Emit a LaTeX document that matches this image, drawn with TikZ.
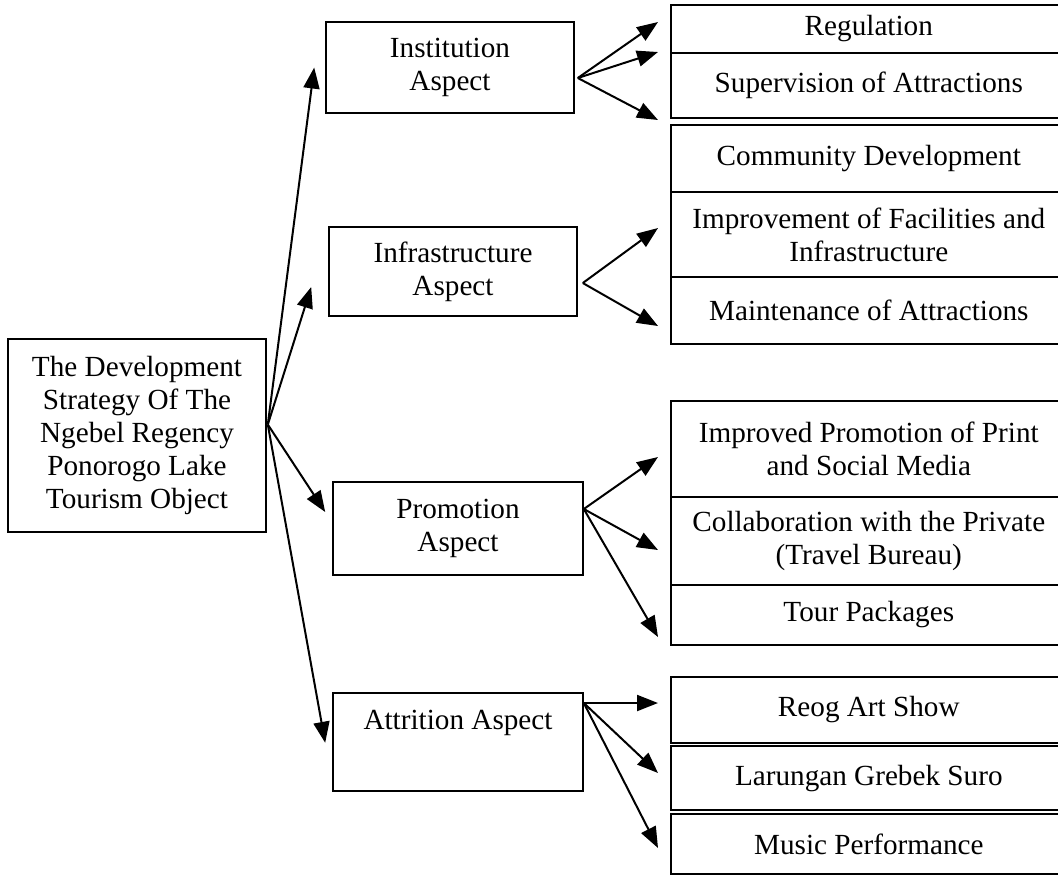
\documentclass[tikz,border=0pt]{standalone}
\usepackage{fontspec}
\setmainfont{Liberation Serif}
\usetikzlibrary{arrows.meta}

\begin{document}
\begin{tikzpicture}[x=0.5pt, y=-0.5pt,
  every node/.style={font=\fontsize{14.6}{16.5}\selectfont, align=center, inner sep=0pt},
  box/.style={draw, line width=0.8pt, minimum width=124pt},
  cell/.style={draw, line width=0.8pt, anchor=west, minimum width=198pt},
  arr/.style={line width=1pt, -{Triangle[length=10.5pt,width=8pt]}}]
\useasboundingbox (0,0) rectangle (1058,874);
\clip (0,0) rectangle (1058,874);
\node[draw, line width=0.8pt, minimum width=129pt, minimum height=96.5pt] (main) at (137,435.5)
  {The Development\\Strategy Of The\\Ngebel Regency\\Ponorogo Lake\\Tourism Object};
\node[box, minimum height=45.5pt] (inst) at (450,67.5) {Institution\\Aspect};
\node[box, minimum height=44.5pt] (infra) at (453,271.5) {Infrastructure\\Aspect};
\node[box, minimum width=125pt, minimum height=46.5pt] (promo) at (458,528.5) {Promotion\\Aspect};
\node[box, minimum width=125pt, anchor=north, text height=18.5pt, text depth=30.5pt] (attr) at (458,692) {Attrition Aspect};
\node[cell, minimum height=24pt] (reg) at (670,29) {Regulation};
\node[cell, minimum height=32.5pt] (sup) at (670,85.5) {Supervision of Attractions};
\node[cell, minimum height=33.5pt] (com) at (670,158.5) {Community Development};
\node[cell, minimum height=42.5pt] (imp) at (670,234.5) {Improvement of Facilities and\\Infrastructure};
\node[cell, minimum height=33.5pt] (mai) at (670,310.5) {Maintenance of Attractions};
\node[cell, minimum height=48pt] (prt) at (670,449) {Improved Promotion of Print\\and Social Media};
\node[cell, minimum height=44pt] (col) at (670,541) {Collaboration with the Private\\(Travel Bureau)};
\node[cell, minimum height=30pt] (tour) at (670,615) {Tour Packages};
\node[cell, minimum height=33pt] (reog) at (670,710) {Reog Art Show};
\node[cell, minimum height=32pt] (lar) at (670,778) {Larungan Grebek Suro};
\node[cell, minimum height=30pt] (mus) at (670,844) {Music Performance};
\draw[arr] ([shift={(1,-11)}]main.east) -- ([shift={(-11,0)}]inst.west);
\draw[arr] ([shift={(1,-11)}]main.east) -- ([shift={(-17,15.5)}]infra.west);
\draw[arr] ([shift={(1,-11)}]main.east) -- ([shift={(-7,-16.5)}]promo.west);
\draw[arr] ([shift={(1,-11)}]main.east) -- ([shift={(-7,1)}]attr.west);
\draw[arr] ([shift={(3,10.5)}]inst.east) -- ([shift={(-12,-7)}]reg.west);
\draw[arr] ([shift={(3,10.5)}]inst.east) -- ([shift={(-12,-33.5)}]sup.west);
\draw[arr] ([shift={(3,10.5)}]inst.east) -- ([shift={(-12,-38.5)}]com.west);
\draw[arr] ([shift={(5,11.5)}]infra.east) -- ([shift={(-12,-6.5)}]imp.west);
\draw[arr] ([shift={(5,11.5)}]infra.east) -- ([shift={(-12,15.5)}]mai.west);
\draw[arr] ([shift={(0,-19.5)}]promo.east) -- ([shift={(-12,8)}]prt.west);
\draw[arr] ([shift={(0,-19.5)}]promo.east) -- ([shift={(-12,9)}]col.west);
\draw[arr] ([shift={(0,-19.5)}]promo.east) -- ([shift={(-12,22)}]tour.west);
\draw[arr] ([shift={(0,11)}]attr.north east) -- ([shift={(-12,-7)}]reog.west);
\draw[arr] ([shift={(0,11)}]attr.north east) -- ([shift={(-12,-5)}]lar.west);
\draw[arr] ([shift={(0,11)}]attr.north east) -- ([shift={(-12,4)}]mus.west);
\end{tikzpicture}
\end{document}
